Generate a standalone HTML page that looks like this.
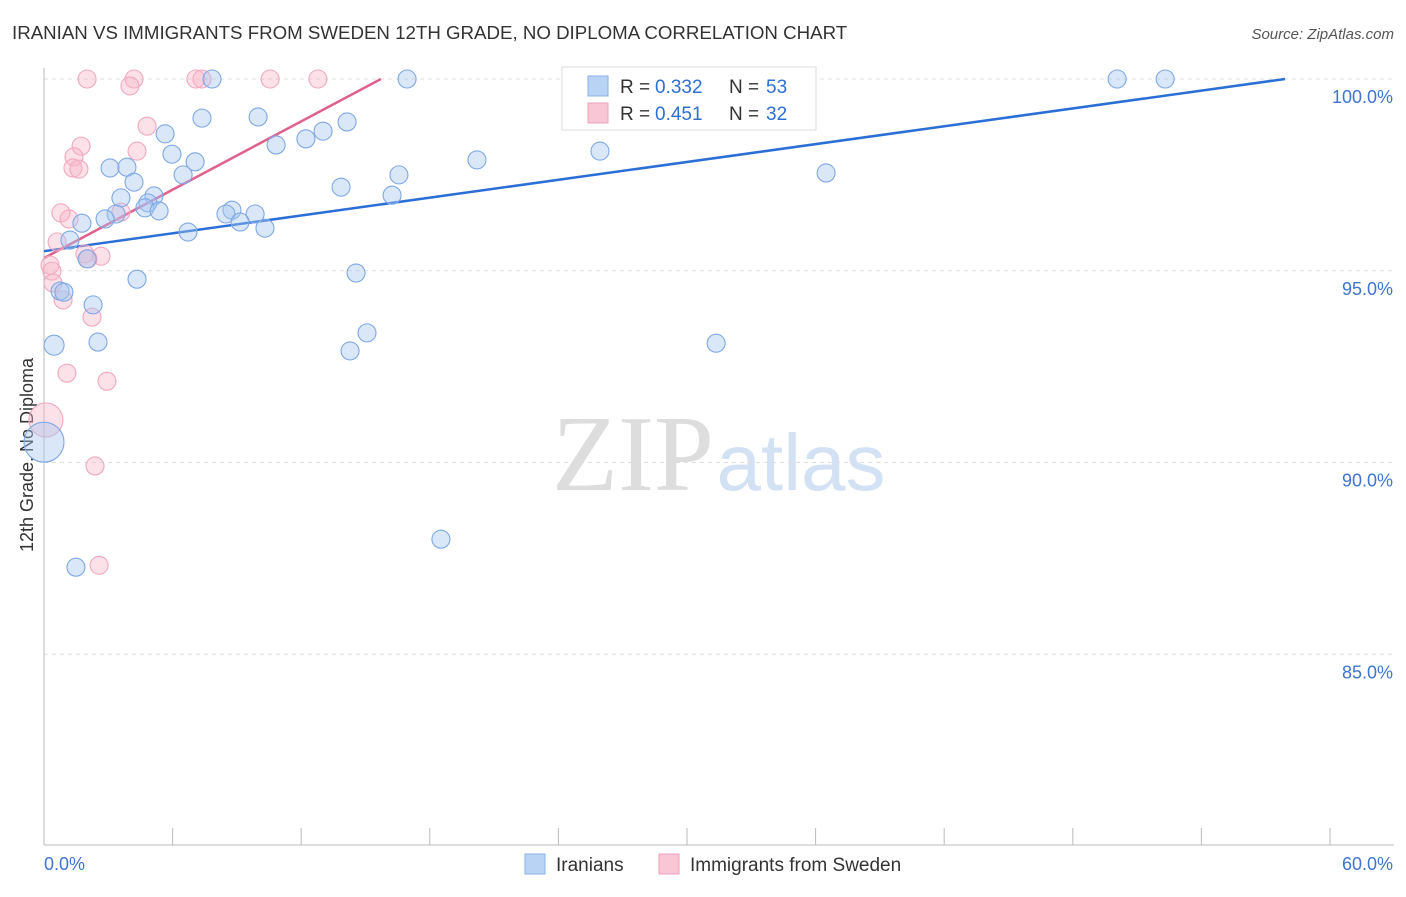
<!DOCTYPE html>
<html><head><meta charset="utf-8"><style>
body{margin:0;background:#fff;width:1406px;height:892px;overflow:hidden;font-family:"Liberation Sans",sans-serif}
</style></head><body>
<svg id="chart" width="1406" height="892" xmlns="http://www.w3.org/2000/svg" font-family="Liberation Sans, sans-serif">
<text x="12" y="39" font-size="18.7" fill="#333">IRANIAN VS IMMIGRANTS FROM SWEDEN 12TH GRADE, NO DIPLOMA CORRELATION CHART</text>
<text x="1394" y="39" font-size="15" fill="#555" text-anchor="end" font-style="italic">Source: ZipAtlas.com</text>
<text transform="translate(33,455) rotate(-90)" font-size="18" fill="#333" text-anchor="middle">12th Grade, No Diploma</text>
<g>
<text x="633" y="490" font-size="108" fill="#ddd" font-family="Liberation Serif, serif" text-anchor="middle">ZIP</text>
<text x="801" y="490" font-size="80" fill="#d3e1f4" text-anchor="middle">atlas</text>
</g>
<g id="grid"></g><g id="axes"></g><g id="lines"></g><g id="pts"></g>
<g>
<rect x="562" y="67" width="254" height="63" fill="#fff" stroke="#ddd"/>
<rect x="588" y="76" width="20" height="20" fill="#b9d3f5" stroke="#8ab0e6"/>
<text x="620" y="93" font-size="19" fill="#333">R =</text>
<text x="655" y="93" font-size="19" fill="#2e6fd3">0.332</text>
<text x="729" y="93" font-size="19" fill="#333">N =</text>
<text x="766" y="93" font-size="19" fill="#2e6fd3">53</text>
<rect x="588" y="103" width="20" height="20" fill="#f9c6d6" stroke="#eea0b8"/>
<text x="620" y="120" font-size="19" fill="#333">R =</text>
<text x="655" y="120" font-size="19" fill="#2e6fd3">0.451</text>
<text x="729" y="120" font-size="19" fill="#333">N =</text>
<text x="766" y="120" font-size="19" fill="#2e6fd3">32</text>
</g>
<g>
<rect x="525" y="854" width="20" height="20" fill="#b9d3f5" stroke="#8ab0e6"/>
<text x="556" y="871" font-size="19" fill="#333">Iranians</text>
<rect x="659" y="854" width="20" height="20" fill="#f9c6d6" stroke="#eea0b8"/>
<text x="690" y="871" font-size="19" fill="#333">Immigrants from Sweden</text>
</g>
</svg>
<script>
const yTicks=[100,95,90,85];
const yTickLabels=["100.0%","95.0%","90.0%","85.0%"];
const xEndLabels=["0.0%","60.0%"];
const blueX=[7.84,16.94,35.56,50.07,52.31,7.37,9.99,5.65,14.14,13.02,12.22,10.83,5.97,7.05,3.08,3.87,6.49,4.20,13.86,16.56,20.20,25.94,36.49,16.24,3.59,5.13,4.85,4.71,5.37,8.77,8.49,9.85,9.15,10.31,3.36,2.85,1.77,6.72,1.21,2.01,4.34,14.56,0.75,0.93,2.29,0.47,2.52,15.07,14.28,31.36,0,18.52,1.49];
const blueY=[100,100,100,100,100,98.98,99.01,98.57,98.88,98.64,98.44,98.28,98.04,97.84,97.68,97.70,97.50,97.31,97.18,97.50,97.89,98.12,97.55,96.97,96.90,96.95,96.77,96.64,96.56,96.58,96.48,96.48,96.27,96.11,96.48,96.35,96.24,96.01,95.80,95.31,94.78,94.94,94.47,94.44,94.11,93.06,93.14,93.38,92.91,93.11,90.53,88.00,87.27];
const blueR=[9,9,9,9,9,9,9,9,9,9,9,9,9,9,9,9,9,9,9,9,9,9,9,9,9,9,9,9,9,9,9,9,9,9,9,9,9,9,9,9,9,9,9,9,9,10,9,9,9,9,20,9,9];
const pinkX=[2.01,4.20,4.01,7.09,7.37,10.55,12.78,4.81,4.34,1.73,1.40,1.35,1.63,0.79,1.17,3.59,0.61,1.91,2.66,0.28,0.37,0.42,0.89,2.24,1.07,2.94,0.09,2.38,2.57,2.05];
const pinkY=[100,100,99.82,100,100,100,100,98.77,98.12,98.25,97.97,97.68,97.65,96.51,96.35,96.53,95.75,95.44,95.38,95.15,94.99,94.68,94.24,93.79,92.33,92.12,91.11,89.91,87.32,95.31];
const pinkR=[9,9,9,9,9,9,9,9,9,9,9,9,9,9,9,9,9,9,9,9,9,9,9,9,9,9,17,9,9,9];
const blueTrend=[[0,95.51],[57.9,100]];
const pinkTrend=[[0,95.33],[15.72,100]];
const NS="http://www.w3.org/2000/svg";
const X=v=>44+v/60*1286;
const Y=v=>79+(100-v)*38.35;
function mk(t,a,p){const e=document.createElementNS(NS,t);for(const k in a)e.setAttribute(k,a[k]);p.appendChild(e);return e;}
const grid=document.getElementById('grid'),axes=document.getElementById('axes');
yTicks.forEach((v,i)=>{
 const g=mk('line',{x1:44,x2:1394,y1:Y(v),y2:Y(v),stroke:'#ddd','stroke-dasharray':'4,4'},grid);
 
 
 const t=mk('text',{x:1393,y:Y(v)+24,'font-size':18,fill:'#3f74d0','text-anchor':'end'},axes);
 t.textContent=yTickLabels[i];
 
 
});
const ya=mk('line',{x1:44,x2:44,y1:68,y2:845,stroke:'#bbb'},axes);


const xa=mk('line',{x1:44,x2:1394,y1:845,y2:845,stroke:'#bbb'},axes);


for(let i=0;i<=10;i++){const t=mk('line',{x1:X(i*6),x2:X(i*6),y1:828,y2:845,stroke:'#bbb'},axes);
 
 }
[[0,'start'],[60,'end']].forEach((d,i)=>{const t=mk('text',{x:i?1393:44,y:870,'font-size':18,fill:'#3f74d0','text-anchor':d[1]},axes);t.textContent=xEndLabels[i];
 
 });
const lines=document.getElementById('lines');
const bl=mk('line',{x1:X(blueTrend[0][0]),y1:Y(blueTrend[0][1]),x2:X(blueTrend[1][0]),y2:Y(blueTrend[1][1]),stroke:'#2b6fd6','stroke-width':2.5},lines);


const pl=mk('line',{x1:X(pinkTrend[0][0]),y1:Y(pinkTrend[0][1]),x2:X(pinkTrend[1][0]),y2:Y(pinkTrend[1][1]),stroke:'#e0608e','stroke-width':2.5},lines);


const pts=document.getElementById('pts');
pinkX.forEach((v,i)=>{const c=mk('circle',{cx:X(v),cy:Y(pinkY[i]),r:pinkR[i],fill:'rgba(248,180,200,0.4)',stroke:'#f0a8c0','stroke-width':1.1},pts);
 
 });
blueX.forEach((v,i)=>{const c=mk('circle',{cx:X(v),cy:Y(blueY[i]),r:blueR[i],fill:'rgba(165,198,240,0.42)',stroke:'#7ea8e4','stroke-width':1.1},pts);
 
 });
</script>
</body></html>
